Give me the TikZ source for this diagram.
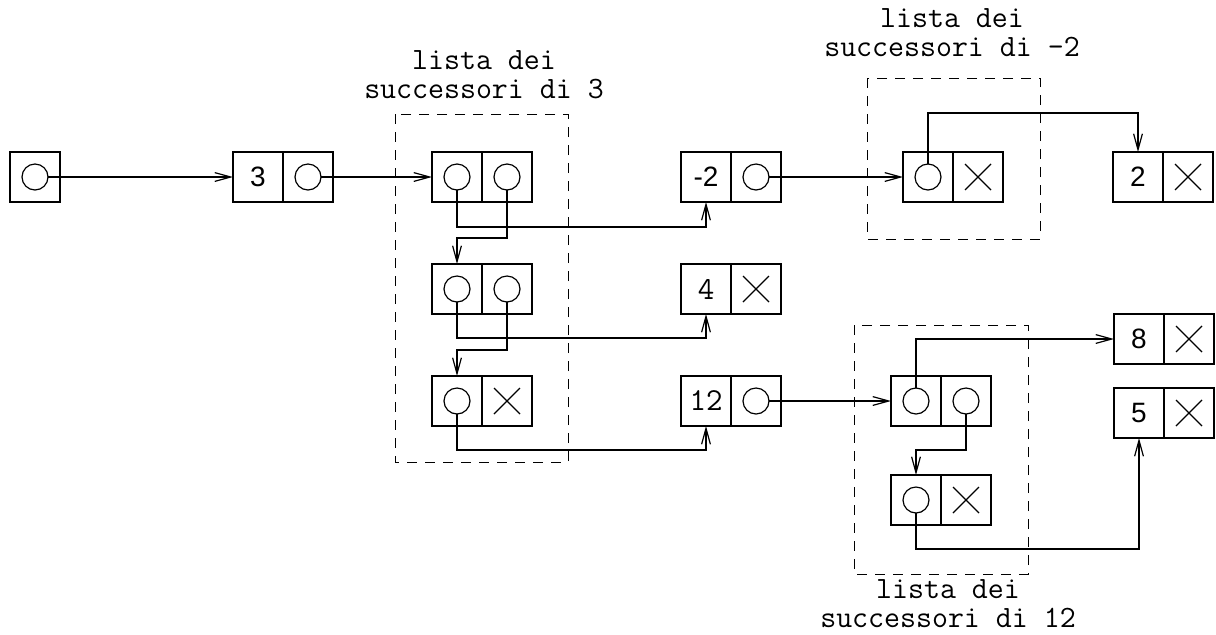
\documentclass[tikz,border=0pt]{standalone}
\usepackage{fontspec}
\setmainfont{Liberation Sans}
\usepackage{tikz}
\usetikzlibrary{arrows.meta,positioning}

\begin{document}
\begin{tikzpicture}[
  x=0.5pt, y=-0.5pt,
  line width=0.6pt,
  cell/.style={draw, minimum size=25pt, inner sep=0pt, outer sep=0pt, font=\fontsize{14}{15}\selectfont},
  mono/.style={font=\ttfamily\fontsize{16}{16}\selectfont},
  ref/.style={draw, circle, minimum size=13pt, inner sep=0pt, outer sep=0pt},
  nil/.style={cell, path picture={
      \draw ([shift={(-6.5pt,-6.5pt)}]path picture bounding box.center) -- ([shift={(6.5pt,6.5pt)}]path picture bounding box.center)
            ([shift={(-6.5pt,6.5pt)}]path picture bounding box.center) -- ([shift={(6.5pt,-6.5pt)}]path picture bounding box.center);}},
  arr/.style={-{Straight Barb[length=8pt,width=4.4pt]}},
  frame/.style={draw, dash pattern=on 5pt off 4pt, line width=0.5pt},
  lbl/.style={align=center, font=\ttfamily\fontsize{15.5}{14.5}\selectfont}
]
\useasboundingbox (0,0) rectangle (1216,634);

% head pointer
\node[cell] (head) at (35,177) {};
\node[ref] (head-p) at (head) {};

% vertex 3
\node[cell] (v3) at (258,177) {3};
\node[cell, right=0pt of v3] (v3-nx) {};
\node[ref] (v3-q) at (v3-nx) {};

% successors of 3
\node[cell] (s3a) at (457,177) {};
\node[cell, right=0pt of s3a] (s3a-nx) {};
\node[cell] (s3b) at (457,289) {};
\node[cell, right=0pt of s3b] (s3b-nx) {};
\node[cell] (s3c) at (457,401) {};
\node[nil, right=0pt of s3c] (s3c-nx) {};
\foreach \n in {s3a,s3b,s3c} \node[ref] (\n-p) at (\n) {};
\foreach \n in {s3a,s3b} \node[ref] (\n-q) at (\n-nx) {};

% vertices -2, 4, 12
\node[cell] (vm2) at (706,177) {-2};
\node[cell, right=0pt of vm2] (vm2-nx) {};
\node[ref] (vm2-q) at (vm2-nx) {};
\node[cell, mono] (v4) at (706,289) {4};
\node[nil, right=0pt of v4] (v4-nx) {};
\node[cell, mono] (v12) at (706,401) {12};
\node[cell, right=0pt of v12] (v12-nx) {};
\node[ref] (v12-q) at (v12-nx) {};

% successors of -2
\node[cell] (sm2a) at (928,177) {};
\node[nil, right=0pt of sm2a] (sm2a-nx) {};
\node[ref] (sm2a-p) at (sm2a) {};
\node[cell] (v2) at (1138,177) {2};
\node[nil, right=0pt of v2] (v2-nx) {};

% successors of 12
\node[cell] (s12a) at (916,401) {};
\node[cell, right=0pt of s12a] (s12a-nx) {};
\node[cell] (s12b) at (916,500) {};
\node[nil, right=0pt of s12b] (s12b-nx) {};
\node[ref] (s12a-p) at (s12a) {};
\node[ref] (s12a-q) at (s12a-nx) {};
\node[ref] (s12b-p) at (s12b) {};
\node[cell] (v8) at (1139,339) {8};
\node[nil, right=0pt of v8] (v8-nx) {};
\node[cell] (v5) at (1139,413) {5};
\node[nil, right=0pt of v5] (v5-nx) {};

% dashed frames and their captions
\draw[frame] (395,114) rectangle (568,462);
\draw[frame] (867,78) rectangle (1040,239);
\draw[frame] (854,325) rectangle (1028,574);
\node[lbl] (l3) at (484,75) {lista dei\\successori di 3};
\node[lbl] (lm2) at (952,33) {lista dei\\successori di -2};
\node[lbl] (l12) at (948,604) {lista dei\\successori di 12};

% pointers
\draw[arr] (head-p) -- (v3);
\draw[arr] (v3-q) -- (s3a);
\draw[arr] (s3a-p.south) -- ++(0,37) -| (vm2.south);
\draw[arr] (s3a-q.south) -- ++(0,48) -| (s3b.north);
\draw[arr] (s3b-p.south) -- ++(0,36) -| (v4.south);
\draw[arr] (s3b-q.south) -- ++(0,48) -| (s3c.north);
\draw[arr] (s3c-p.south) -- ++(0,36) -| (v12.south);
\draw[arr] (vm2-q) -- (sm2a);
\draw[arr] (sm2a-p.north) -- ++(0,-51) -| (v2.north);
\draw[arr] (v12-q) -- (s12a);
\draw[arr] (s12a-p.north) |- (v8.west);
\draw[arr] (s12a-q.south) -- ++(0,36) -| (s12b.north);
\draw[arr] (s12b-p.south) -- ++(0,36) -| (v5.south);
\end{tikzpicture}
\end{document}
